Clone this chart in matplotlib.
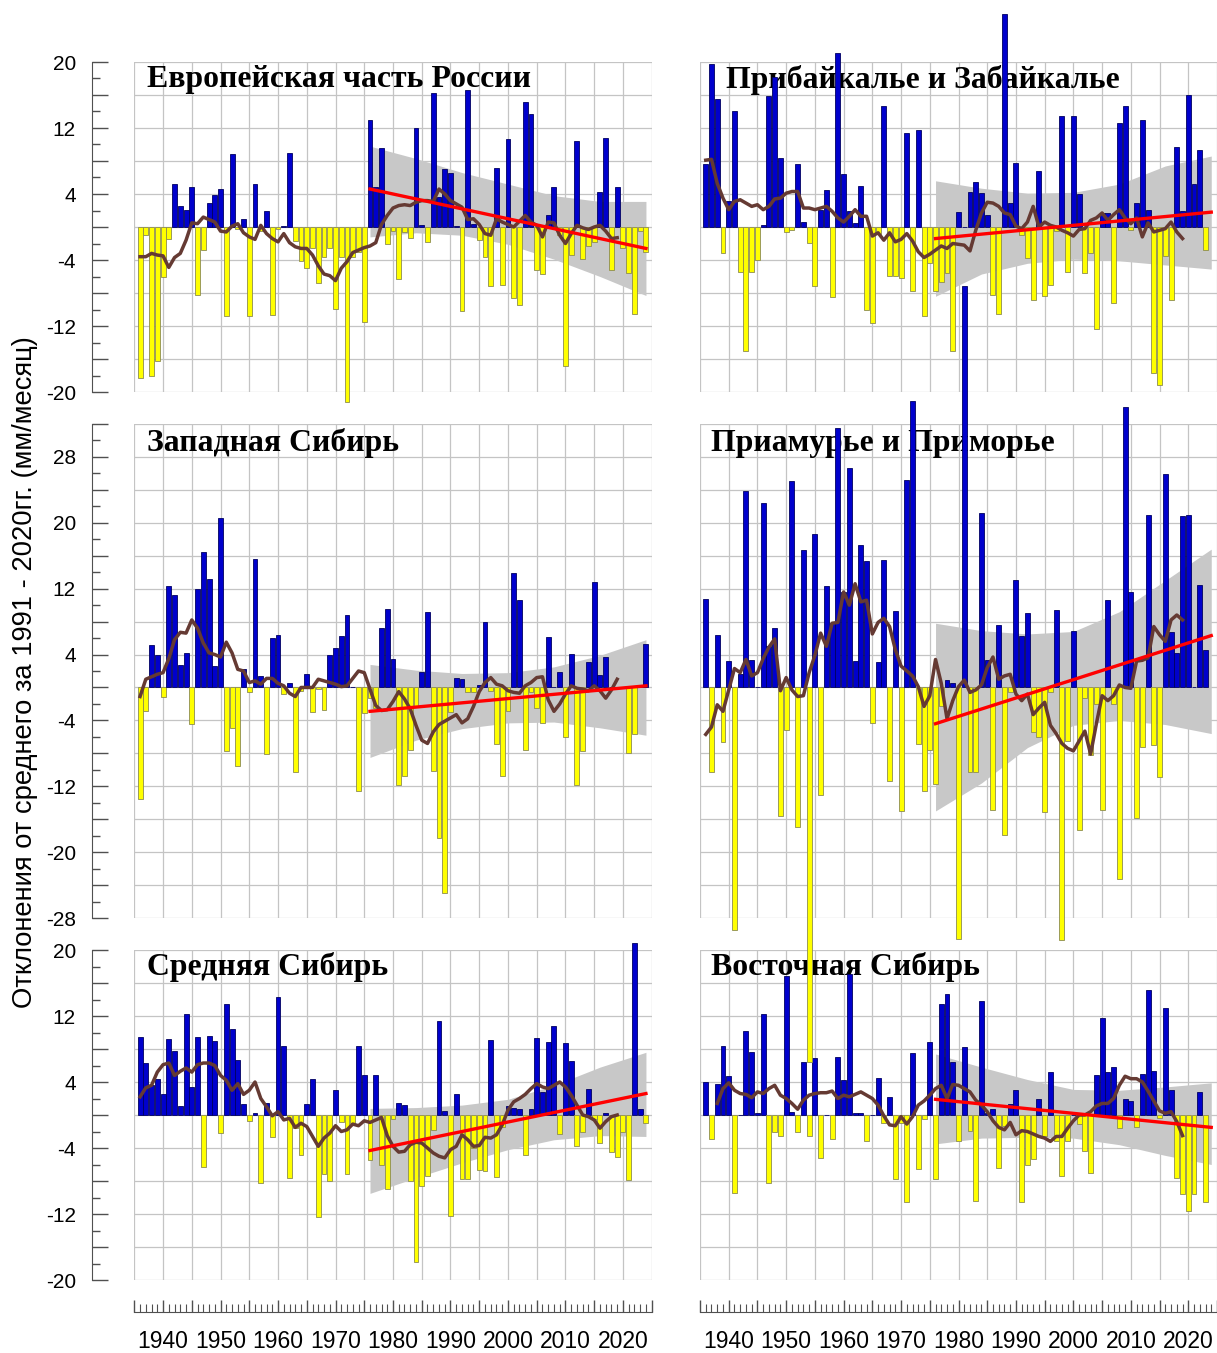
import numpy as np
import matplotlib.pyplot as plt
from matplotlib.ticker import MultipleLocator, FuncFormatter

# годы
years = np.arange(1936, 2025)
ma_years = np.arange(1936, 2020)
trend_years = [1976, 2024]
band_years = [1976, 1984, 1992, 2000, 2008, 2016, 2024]
nan = np.nan

# ---------------- Европейская часть России ----------------
eur_bars = [-18.3, -1.0, -18.1, -16.3, -6.0, -1.4, 5.2, 2.6, 2.1, 4.8,
            -8.2, -2.8, 2.9, 3.9, 4.6, -10.8, 8.8, -0.3, 1.0, -10.8,
            5.2, -0.5, 2.0, -10.7, -0.2, 0.1, 9.0, -1.7, -4.1, -5.0,
            -2.6, -6.8, -3.6, -2.6, -9.9, -3.6, -21.2, -3.6, -3.0, -11.5,
            13.0, 4.9, 9.6, -2.0, -0.5, -6.3, -0.6, -1.3, 12.0, 0.2,
            -1.8, 16.3, 3.6, 7.0, 6.6, 0.1, -10.2, 16.6, 0.4, -1.6,
            -3.6, -7.2, 7.2, -7.0, 10.7, -8.6, -9.4, 15.1, 13.7, -5.2,
            -5.7, 1.5, 4.8, -1.0, -16.8, -3.4, 10.4, -3.9, -2.3, -1.8,
            4.3, 10.8, -5.2, 4.8, -2.6, -5.6, -10.6, -0.5, -3.0]
eur_ma = [-3.6, -3.6, -3.2, -3.4, -3.5, -4.9, -3.7, -3.2, -1.6, 0.5,
          0.4, 1.2, 0.9, 0.6, -0.5, -0.6, 0.1, 0.4, -0.7, -1.2,
          -1.5, 0.2, -0.8, -1.4, -1.8, -0.8, -1.9, -2.4, -2.6, -2.6,
          -3.4, -4.7, -5.7, -5.9, -6.5, -5.0, -4.2, -3.1, -2.8, -2.5,
          -2.3, -1.9, 0.3, 1.4, 2.3, 2.6, 2.7, 2.6, 3.0, 3.2,
          3.2, 3.1, 4.6, 4.0, 3.2, 2.8, 2.4, 0.9, 1.0, 0.3,
          -0.8, -1.0, 1.0, 0.6, 0.3, 0.0, 0.7, 1.4, 0.6, 0.2,
          -1.2, 0.6, 0.5, -1.0, -2.0, -0.8, 0.2, -0.1, -0.3, 0.0,
          0.2, -0.5, -1.4, -1.3]
eur_trend = [4.6, -2.6]
eur_hi = [9.8, 8.3, 6.6, 5.2, 3.8, 3.1, 3.1]
eur_lo = [-1.2, -0.7, -1.0, -2.1, -3.9, -6.0, -8.3]

# ---------------- Прибайкалье и Забайкалье ----------------
prib_bars = [7.6, 19.7, 15.5, -3.1, 3.2, 14.1, -5.5, -15.0, -5.4, -4.0,
             0.3, 15.9, 18.2, 8.4, -0.6, -0.4, 7.6, 0.6, -1.9, -7.2,
             2.1, 4.5, -8.5, 21.1, 6.4, 1.9, 0.5, 5.0, -10.1, -11.6,
             -0.8, 14.7, -5.9, -5.9, -6.2, 11.4, -7.8, 11.8, -10.8, -4.4,
             -7.8, -6.7, -5.6, -15.0, 1.8, 0.0, 4.2, 5.5, 4.1, 1.4,
             -8.2, -10.5, 25.8, 2.9, 7.8, -1.0, -3.7, -8.8, 6.8, -8.4,
             -7.0, -0.5, 13.4, -5.5, 13.5, 4.0, -5.6, -3.2, -12.4, 1.7,
             1.7, -9.2, 12.6, 14.7, -0.4, 2.9, 13.0, 2.1, -17.7, -19.2,
             -3.5, -8.8, 9.7, 2.0, 16.0, 5.2, 9.3, -2.8, nan]
prib_ma = [8.1, 8.2, 5.3, 3.5, 2.1, 3.1, 3.3, 2.9, 2.5, 2.7,
           2.1, 2.5, 3.4, 3.5, 4.1, 4.3, 4.3, 2.3, 2.3, 2.1,
           2.3, 2.5, 1.9, 1.1, 0.6, 1.3, 2.1, 1.3, 1.3, -1.1,
           -0.7, -1.6, -0.7, -1.8, -1.5, -0.8, -1.7, -3.0, -3.7, -3.3,
           -2.8, -2.3, -2.6, -2.0, -2.1, -2.2, -2.9, -0.4, 1.7, 3.0,
           2.9, 2.5, 1.7, 1.5, 0.1, -0.2, 0.6, 2.5, 0.0, 0.6,
           0.2, 0.0, -0.4, -0.7, -1.1, -0.3, -0.2, 0.8, 1.1, 1.7,
           0.8, 1.5, 2.1, 1.1, 0.4, 1.1, -1.2, 0.5, -0.6, -0.4,
           -0.2, 0.6, -0.6, -1.4]
prib_trend = [-1.4, 1.8]
prib_hi = [5.6, 4.7, 4.1, 4.2, 5.2, 7.4, 8.6]
prib_lo = [-8.4, -5.7, -4.4, -3.9, -4.1, -4.6, -5.1]

# ---------------- Западная Сибирь ----------------
zap_bars = [-13.6, -2.9, 5.1, 4.0, -1.1, 12.3, 11.2, 2.7, 4.2, -4.4,
            11.9, 16.4, 13.2, 2.6, 20.6, -7.7, -4.9, -9.5, 2.2, -0.5,
            15.6, 1.4, -8.1, 6.0, 6.4, -0.8, 0.6, -10.3, -0.4, 1.6,
            -3.0, -0.2, -2.7, 4.0, 4.8, 6.3, 8.8, 0.0, -12.6, -3.1,
            -1.3, -2.5, 7.2, 9.5, 3.4, -11.9, -10.7, -7.6, -2.3, 1.9,
            9.2, -10.1, -18.3, -25.0, -3.0, 1.1, 1.0, -0.6, -0.6, 0.3,
            8.0, -0.4, -6.9, -10.7, -2.9, 13.9, 10.6, -7.6, -0.5, -2.5,
            -4.3, 6.1, 0.0, 1.9, -6.0, 4.1, -11.9, -7.7, 3.1, 12.8,
            1.5, 3.7, 0.0, 0.0, 0.0, -7.9, -5.6, 0.0, 5.3]
zap_ma = [-1.1, 1.0, 1.3, 1.6, 1.8, 3.5, 5.8, 6.7, 6.6, 8.2,
          7.2, 5.4, 4.2, 4.0, 3.7, 5.5, 4.2, 2.2, 2.0, 0.6,
          0.8, 0.4, 1.1, 1.1, 0.5, 0.2, -0.7, -1.1, 0.0, 0.0,
          0.0, 1.0, 0.8, 0.6, 0.4, 0.1, 0.2, 1.1, 2.0, 1.8,
          -0.2, -2.2, -2.8, -2.7, -1.7, -0.5, -1.4, -2.6, -4.6, -6.4,
          -6.8, -5.4, -4.5, -4.1, -3.7, -3.3, -4.3, -3.8, -2.3, -0.5,
          0.6, 1.2, 0.4, 0.2, -0.4, -0.6, -0.7, 0.2, 0.6, 1.2,
          1.3, -1.5, -2.9, -2.0, -0.8, 0.2, -0.1, -0.2, -0.4, 0.2,
          -0.4, -1.3, -0.3, 1.0]
zap_trend = [-2.9, 0.2]
zap_hi = [2.8, 2.1, 1.7, 1.8, 2.5, 3.9, 5.8]
zap_lo = [-8.5, -6.4, -5.0, -4.3, -4.2, -4.9, -5.8]

# ---------------- Приамурье и Приморье ----------------
priam_bars = [10.7, -10.3, 6.4, -6.6, 3.2, -29.5, 1.6, 23.9, 3.3, 0.0,
              22.4, 5.0, 7.2, -15.6, -5.2, 25.1, -17.0, 16.7, -45.5, 18.6,
              -13.0, 12.3, 7.8, 31.5, 11.6, 26.7, 3.2, 17.3, 15.3, -4.3,
              3.1, 15.5, -11.3, 9.3, -15.0, 25.2, 34.8, -6.9, -12.6, -7.6,
              -11.7, -2.3, 0.9, 0.6, -30.6, 48.8, -10.3, -10.3, 21.2, 3.3,
              -14.9, 7.6, -17.9, -0.5, 13.0, 6.3, 9.0, -5.4, -6.0, -15.1,
              -0.5, 9.4, -30.7, -6.5, 6.8, -17.3, -1.3, -8.2, -2.0, -14.9,
              10.6, -2.0, -23.3, 34.1, 11.6, -15.9, -7.2, 20.9, -7.0, -10.9,
              25.9, 6.7, 4.2, 20.8, 21.0, 0.0, 12.5, 4.5, nan]
priam_ma = [-5.7, -4.8, -2.1, -2.9, -0.3, 2.3, 1.8, 3.4, 1.4, 1.8,
            3.5, 4.9, 5.9, -0.4, 1.2, -0.3, -1.1, -1.0, 1.8, 3.9,
            6.6, 5.0, 7.8, 7.9, 11.6, 10.0, 12.6, 10.4, 10.6, 6.5,
            7.9, 8.4, 7.4, 4.6, 2.6, 2.0, 1.4, 0.1, -2.3, -1.0,
            3.4, 0.5, -3.8, -1.6, 0.1, 0.9, -0.6, -0.3, 0.3, 2.4,
            3.7, 1.0, 1.4, 1.6, -0.8, -1.6, -0.8, -3.3, -2.5, -1.8,
            -4.6, -5.6, -6.8, -7.4, -7.7, -6.5, -5.3, -8.1, -4.4, -1.0,
            -1.6, -1.0, 0.3, 0.0, -0.1, 3.2, 3.3, 3.6, 7.4, 6.4,
            5.6, 8.2, 8.8, 8.2]
priam_trend = [-4.4, 6.3]
priam_hi = [7.8, 6.9, 6.5, 6.8, 9.2, 13.0, 16.8]
priam_lo = [-15.0, -11.6, -7.3, -4.6, -4.0, -4.5, -5.6]

# ---------------- Средняя Сибирь ----------------
sred_bars = [9.5, 6.3, 3.6, 4.4, 2.5, 9.2, 7.8, 1.1, 12.2, 3.4,
             9.5, -6.3, 9.6, 9.0, -2.2, 13.5, 10.4, 6.7, 1.3, -0.7,
             0.2, -8.3, 1.4, -2.7, 14.3, 8.4, -7.6, -1.6, -4.8, 1.3,
             4.4, -12.4, -7.2, -8.0, 3.0, -0.8, -7.2, -1.0, 8.4, 4.8,
             -5.5, 4.9, -6.0, -9.0, -0.5, 1.5, 1.2, -8.0, -17.8, -8.6,
             -7.4, -1.8, 11.4, 0.5, -12.3, 2.6, -7.8, -7.8, -4.0, -6.7,
             -6.8, 9.1, -7.5, -1.5, 1.1, 0.8, 0.7, -4.9, 0.7, 9.3,
             2.8, 8.8, 10.8, -2.3, 8.7, 6.5, -3.7, -2.0, 3.2, -0.5,
             -3.4, 0.2, -4.5, -5.1, -2.0, -7.9, 20.9, 0.7, -1.0]
sred_ma = [2.2, 3.3, 3.6, 5.2, 6.1, 6.3, 4.8, 5.3, 5.7, 5.2,
           6.1, 6.3, 6.3, 6.0, 4.8, 4.2, 3.0, 3.8, 2.5, 3.0,
           4.0, 2.0, 1.0, -0.1, 0.4, -0.6, -0.4, -1.5, -1.0, -1.4,
           -2.6, -3.8, -2.8, -2.2, -1.3, -2.0, -1.8, -1.1, -1.3, -0.7,
           -0.9, -0.6, -0.3, -2.5, -3.8, -4.5, -4.4, -3.6, -3.3, -3.4,
           -4.0, -4.6, -5.0, -5.2, -4.2, -3.8, -2.4, -3.0, -3.8, -3.7,
           -2.7, -2.8, -2.4, -1.2, 0.6, 1.6, 2.0, 2.5, 3.2, 3.8,
           3.4, 3.2, 3.6, 4.0, 3.4, 2.4, 1.2, 0.0, -0.2, -0.6,
           -1.6, -0.8, -0.2, 0.0]
sred_trend = [-4.3, 2.6]
sred_hi = [0.8, 0.9, 1.2, 1.9, 3.6, 5.8, 7.6]
sred_lo = [-9.5, -7.6, -5.8, -4.2, -3.0, -2.5, -2.6]

# ---------------- Восточная Сибирь ----------------
vost_bars = [4.0, -2.9, 3.8, 8.4, 4.7, -9.5, 0.0, 10.2, 7.6, 0.2,
             12.2, -8.3, -2.1, -2.6, 16.9, 0.4, -2.1, 6.4, -2.6, 6.9,
             -5.2, 0.0, -2.9, 7.0, 4.2, 17.1, 0.3, 0.3, -3.2, 0.0,
             4.5, -1.0, 2.2, -7.7, -1.0, -10.6, 7.5, -6.5, -0.5, 8.8,
             -7.8, 13.5, 14.7, 6.4, -3.2, 8.2, -1.9, -10.4, 13.8, 0.3,
             0.7, -6.4, -1.3, 1.3, 3.0, -10.5, -6.1, -5.3, 1.9, -2.5,
             5.2, -3.2, -7.4, -3.2, 0.0, -1.1, -4.4, -7.0, 4.9, 11.8,
             5.2, 5.8, -1.6, 1.9, 1.7, -1.5, 5.0, 15.2, 5.3, -0.4,
             13.0, 3.0, -7.6, -9.6, -11.6, -9.6, 2.8, -10.6, nan]
vost_ma = [nan, nan, 1.4, 3.2, 3.9, 3.0, 2.6, 2.5, 2.1, 2.8,
           2.6, 3.2, 3.6, 2.4, 2.0, 1.4, 0.7, 1.8, 2.4, 2.6,
           2.7, 2.7, 2.9, 2.0, 2.4, 2.2, 2.5, 2.8, 2.4, 2.0,
           1.2, -0.1, -1.2, -1.3, -0.2, -1.1, -0.2, 1.2, 1.7, 2.4,
           3.2, 3.6, 2.0, 3.7, 3.6, 3.2, 2.8, 1.8, 1.2, 0.4,
           -0.7, -1.5, -1.8, -0.9, -2.4, -1.9, -2.0, -2.3, -2.6, -2.8,
           -3.2, -2.6, -2.6, -1.6, -0.7, 0.0, 0.0, 0.4, 1.1, 1.4,
           1.4, 2.0, 3.6, 4.7, 4.4, 4.4, 4.0, 2.9, 1.7, 0.5,
           0.2, 0.4, -0.8, -2.5]
vost_trend = [1.9, -1.5]
vost_hi = [7.4, 5.8, 4.3, 3.1, 3.0, 3.4, 3.9]
vost_lo = [-3.5, -2.8, -2.7, -2.8, -3.6, -4.9, -6.0]

# ---------------- рисунок ----------------
W, H = 1217, 1353
fig = plt.figure(figsize=(W / 100, H / 100), dpi=100)


def px_rect(x0, x1, y0, y1):
    return [x0 / W, 1 - y1 / H, (x1 - x0) / W, (y1 - y0) / H]


cols = [(134.3, 651.7), (700, 1217)]
rows = [((62, 392), (-20, 20)), ((424, 918), (-28, 32)), ((950, 1280), (-20, 20))]
title_y = [80, 443, 967]

panels = [
    ("Европейская часть России", eur_bars, eur_ma, eur_trend, eur_hi, eur_lo, 0, 0, 0.024),
    ("Прибайкалье и Забайкалье", prib_bars, prib_ma, prib_trend, prib_hi, prib_lo, 0, 1, 0.051),
    ("Западная Сибирь", zap_bars, zap_ma, zap_trend, zap_hi, zap_lo, 1, 0, 0.024),
    ("Приамурье и Приморье", priam_bars, priam_ma, priam_trend, priam_hi, priam_lo, 1, 1, 0.022),
    ("Средняя Сибирь", sred_bars, sred_ma, sred_trend, sred_hi, sred_lo, 2, 0, 0.024),
    ("Восточная Сибирь", vost_bars, vost_ma, vost_trend, vost_hi, vost_lo, 2, 1, 0.022),
]

grid_c = '#c4c4c4'
axis_c = '#505050'


def ylab(v, pos):
    v = int(round(v))
    return str(v) if (v - 4) % 8 == 0 else ''


def xlab(v, pos):
    v = int(round(v))
    return str(v) if v % 10 == 0 else ''


for name, bars, ma, trend, hi, lo, r, c, tx in panels:
    (ytop, ybot), (ymin, ymax) = rows[r]
    ax = fig.add_axes(px_rect(cols[c][0], cols[c][1], ytop, ybot))
    ax.set_facecolor('none')
    ax.set_xlim(1935, 2025)
    ax.set_ylim(ymin, ymax)
    if r == 1 and c == 1:
        ax.set_zorder(3)   # столбцы Приамурья вылезают на соседние панели

    ax.xaxis.set_major_locator(MultipleLocator(5))
    ax.yaxis.set_major_locator(MultipleLocator(4))
    ax.grid(True, which='major', color=grid_c, lw=0.9)
    ax.set_axisbelow(True)
    for s in ax.spines.values():
        s.set_visible(False)

    # доверительный интервал тренда
    ax.fill_between(band_years, lo, hi, color='#c8c8c8', lw=0, zorder=1)

    b = np.array(bars, dtype=float)
    ok = ~np.isnan(b)
    fc = np.where(b[ok] >= 0, '#0000cc', '#ffff00')
    ec = np.where(b[ok] >= 0, '#000060', '#8c8c50')
    ax.bar(years[ok], b[ok], width=0.86, color=fc, edgecolor=ec, lw=0.6,
           zorder=2, clip_on=False)

    ax.plot(ma_years, ma, color='#653a33', lw=2.5, zorder=4)
    ax.plot(trend_years, trend, color='#ff0000', lw=2.4, zorder=5)

    ax.text(tx, (ybot - title_y[r]) / (ybot - ytop), name,
            transform=ax.transAxes, ha='left', va='center',
            fontfamily='Liberation Serif', fontweight='bold', fontsize=22.9, zorder=1.5)

    # ось Y только слева
    if c == 0:
        ax.spines['left'].set_visible(True)
        ax.spines['left'].set_position(('outward', 30.5))
        ax.spines['left'].set_color(axis_c)
        ax.yaxis.set_minor_locator(MultipleLocator(2))
        ax.yaxis.set_major_formatter(FuncFormatter(ylab))
        ax.tick_params(axis='y', which='major', direction='in', length=11.5,
                       width=1, color=axis_c, pad=11.5, labelsize=15)
        ax.tick_params(axis='y', which='minor', direction='in', length=6,
                       width=1, color=axis_c)
        for t in ax.get_yticklabels():
            t.set_fontfamily('Liberation Sans')
    else:
        ax.tick_params(axis='y', length=0, labelleft=False)

    # ось X только внизу
    if r == 2:
        ax.spines['bottom'].set_visible(True)
        ax.spines['bottom'].set_position(('outward', 23))
        ax.spines['bottom'].set_color(axis_c)
        ax.xaxis.set_minor_locator(MultipleLocator(1))
        ax.xaxis.set_major_formatter(FuncFormatter(xlab))
        ax.tick_params(axis='x', which='major', direction='in', length=9,
                       width=1, color=axis_c, pad=13, labelsize=16.5)
        ax.tick_params(axis='x', which='minor', direction='in', length=6,
                       width=0.8, color=axis_c)
        for t in ax.get_xticklabels():
            t.set_fontfamily('Liberation Sans')
    else:
        ax.tick_params(axis='x', length=0, labelbottom=False)

fig.text(25 / W, 1 - 672 / H, "Отклонения от среднего за 1991 - 2020гг. (мм/месяц)",
         rotation=90, ha='center', va='center', fontsize=19.7, fontfamily='Liberation Sans')

fig.savefig('out.png', dpi=100)
